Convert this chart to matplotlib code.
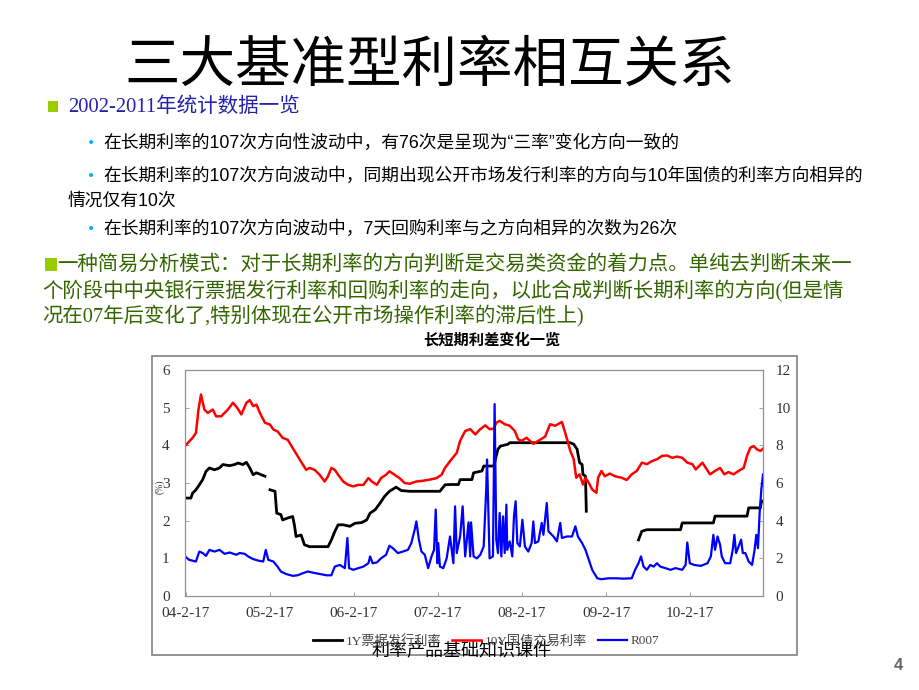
import numpy as np
import matplotlib
matplotlib.use("Agg")
import matplotlib.pyplot as plt
from matplotlib.patches import Rectangle

plt.rcParams['font.family'] = ['Noto Sans CJK SC', 'DejaVu Sans']

# 10Y国债交易利率 (左轴, %)
red_year = [2004.12, 2004.21, 2004.25, 2004.28, 2004.31, 2004.35, 2004.39, 2004.45, 2004.49, 2004.55,
            2004.63, 2004.69, 2004.74, 2004.79, 2004.85, 2004.89, 2004.93, 2004.97, 2005.01, 2005.07,
            2005.13, 2005.17, 2005.22, 2005.28, 2005.34, 2005.40, 2005.46, 2005.52, 2005.56, 2005.60,
            2005.66, 2005.72, 2005.78, 2005.82, 2005.86, 2005.90, 2005.94, 2006.00, 2006.06, 2006.12,
            2006.18, 2006.24, 2006.30, 2006.34, 2006.40, 2006.45, 2006.51, 2006.55, 2006.61, 2006.67,
            2006.73, 2006.79, 2006.87, 2006.95, 2007.03, 2007.11, 2007.17, 2007.21,
            2007.27, 2007.35, 2007.39, 2007.45, 2007.51, 2007.57, 2007.63, 2007.69, 2007.74, 2007.79,
            2007.82, 2007.86, 2007.92, 2007.98, 2008.04, 2008.08, 2008.12, 2008.18, 2008.26, 2008.32,
            2008.40, 2008.46, 2008.52, 2008.60, 2008.65, 2008.70, 2008.74, 2008.77, 2008.81, 2008.85,
            2008.88, 2008.92, 2008.96, 2009.01, 2009.03, 2009.07, 2009.11, 2009.17, 2009.23, 2009.31,
            2009.37, 2009.43, 2009.49, 2009.55, 2009.61, 2009.67, 2009.73, 2009.79, 2009.85, 2009.91,
            2009.97, 2010.03, 2010.09, 2010.15, 2010.19, 2010.23, 2010.27, 2010.31, 2010.36, 2010.42,
            2010.48, 2010.53, 2010.58, 2010.64, 2010.70, 2010.76, 2010.80, 2010.84, 2010.88, 2010.92,
            2010.96, 2010.99]
red_val = [3.98, 4.2, 4.33, 4.95, 5.35, 4.95, 4.86, 4.95, 4.77, 4.77,
           4.95, 5.13, 5.0, 4.82, 5.13, 5.2, 5.04, 5.08, 4.86, 4.6,
           4.55, 4.42, 4.37, 4.2, 4.15, 3.93, 3.71, 3.49, 3.35, 3.4,
           3.35, 3.22, 3.04, 3.18, 3.4, 3.35, 3.22, 3.04, 2.95, 2.91,
           2.95, 2.95, 3.13, 3.04, 2.95, 3.13, 3.22, 3.31, 3.22, 3.13,
           3.0, 2.98, 3.04, 3.06, 3.09, 3.13, 3.22, 3.4,
           3.58, 3.8, 4.12, 4.38, 4.43, 4.29, 4.43, 4.53, 4.43, 4.44,
           4.6, 4.65, 4.56, 4.52, 4.38, 4.16, 4.12, 4.2, 4.04, 4.12,
           4.23, 4.56, 4.52, 4.62, 4.25, 3.85, 3.63, 3.14, 3.23, 2.96,
           3.14, 3.0, 2.83, 2.74, 3.14, 3.32, 3.18, 3.25, 3.18, 3.14,
           3.08, 3.23, 3.32, 3.54, 3.5, 3.58, 3.63, 3.72, 3.73, 3.67,
           3.7, 3.67, 3.54, 3.5, 3.36, 3.45, 3.54, 3.4, 3.23, 3.32,
           3.4, 3.23, 3.29, 3.23, 3.32, 3.4, 3.72, 3.94, 3.98, 3.89,
           3.85, 3.91]

# 1Y票据发行利率 (左轴, %), nan = 停发
black_year = [2004.12, 2004.19, 2004.21, 2004.25, 2004.29, 2004.33, 2004.37, 2004.41, 2004.47, 2004.53,
              2004.57, 2004.65, 2004.71, 2004.75, 2004.81, 2004.85, 2004.89, 2004.93, 2004.97, 2005.07,
              2005.10,
              2005.13, 2005.19, 2005.21, 2005.26, 2005.28, 2005.34, 2005.40, 2005.42, 2005.44, 2005.50,
              2005.54, 2005.60, 2005.82, 2005.86, 2005.90, 2005.94, 2006.00, 2006.08, 2006.14, 2006.22,
              2006.28, 2006.32, 2006.38, 2006.44, 2006.49, 2006.55, 2006.63, 2006.69, 2006.79, 2007.15,
              2007.21, 2007.27, 2007.37, 2007.39, 2007.53, 2007.55, 2007.65, 2007.67, 2007.79, 2007.82,
              2007.84, 2007.87, 2007.96, 2007.98, 2008.70, 2008.74, 2008.78, 2008.81, 2008.84, 2008.85,
              2008.88, 2008.89,
              2009.20,
              2009.51, 2009.55, 2009.61, 2010.01, 2010.03, 2010.40, 2010.42, 2010.80, 2010.82, 2010.96,
              2010.97, 2010.99]
black_val = [2.6, 2.6, 2.73, 2.82, 2.95, 3.09, 3.31, 3.4, 3.35, 3.4,
             3.49, 3.46, 3.49, 3.53, 3.49, 3.55, 3.4, 3.22, 3.27, 3.18,
             np.nan,
             2.82, 2.78, 2.2, 2.16, 2.02, 2.07, 2.11, 1.89, 1.58, 1.62,
             1.36, 1.31, 1.31, 1.49, 1.71, 1.89, 1.89, 1.85, 1.93, 1.95,
             2.02, 2.2, 2.29, 2.47, 2.64, 2.78, 2.89, 2.8, 2.78, 2.78,
             2.95, 2.96, 2.96, 3.09, 3.09, 3.27, 3.32, 3.45, 3.45, 3.72,
             3.9, 3.98, 4.03, 4.07, 4.07, 4.03, 3.9, 3.54, 3.49, 3.23,
             3.18, 2.25,
             np.nan,
             1.49, 1.72, 1.76, 1.76, 1.94, 1.94, 2.12, 2.12, 2.34, 2.34,
             2.52, 2.52]

# R007 (右轴, %)
blue_year = [2004.12, 2004.17, 2004.25, 2004.29, 2004.33, 2004.37, 2004.41, 2004.47, 2004.53, 2004.59,
             2004.65, 2004.73, 2004.77, 2004.83, 2004.87, 2004.93, 2004.99, 2005.05, 2005.08, 2005.11,
             2005.17, 2005.22, 2005.26, 2005.32, 2005.40, 2005.46, 2005.52, 2005.58, 2005.64, 2005.72,
             2005.80, 2005.86, 2005.90, 2005.96, 2006.02, 2006.05, 2006.07, 2006.12, 2006.18, 2006.24,
             2006.30, 2006.32, 2006.35, 2006.40, 2006.45, 2006.51, 2006.55, 2006.59, 2006.65, 2006.71,
             2006.77, 2006.81, 2006.85, 2006.87, 2006.90, 2006.93, 2006.97, 2007.01, 2007.05, 2007.08,
             2007.10, 2007.12, 2007.13, 2007.15, 2007.19, 2007.23,
             2007.27, 2007.31, 2007.33, 2007.35, 2007.39, 2007.42, 2007.45, 2007.49, 2007.51, 2007.52,
             2007.55, 2007.59, 2007.63, 2007.67, 2007.70, 2007.71, 2007.74, 2007.78, 2007.80, 2007.82,
             2007.84, 2007.86, 2007.88, 2007.90, 2007.92, 2007.94, 2007.95, 2007.98, 2008.01, 2008.03,
             2008.05, 2008.07, 2008.10, 2008.13, 2008.16, 2008.20, 2008.24, 2008.26, 2008.28, 2008.32,
             2008.36, 2008.38, 2008.42, 2008.44, 2008.50, 2008.54, 2008.58, 2008.60, 2008.66, 2008.72,
             2008.76, 2008.79, 2008.84, 2008.88, 2008.92, 2008.96, 2009.02, 2009.07, 2009.15, 2009.25,
             2009.33, 2009.43, 2009.47, 2009.51, 2009.54, 2009.57, 2009.61, 2009.65, 2009.69, 2009.73,
             2009.77, 2009.83, 2009.89, 2009.95, 2010.03, 2010.07, 2010.09, 2010.12, 2010.17, 2010.25,
             2010.33, 2010.37, 2010.40, 2010.42, 2010.45, 2010.48, 2010.50, 2010.54, 2010.60, 2010.63,
             2010.65, 2010.67, 2010.70, 2010.73, 2010.75, 2010.78, 2010.82, 2010.86, 2010.89, 2010.91,
             2010.93, 2010.95, 2010.97, 2010.99]
blue_val = [2.1, 1.92, 1.83, 2.36, 2.28, 2.13, 2.45, 2.36, 2.45, 2.24,
            2.31, 2.19, 2.28, 2.24, 2.1, 1.96, 1.88, 1.83, 2.45, 1.92,
            1.83, 1.56, 1.3, 1.17, 1.07, 1.1, 1.21, 1.3, 1.24, 1.17,
            1.1, 1.1, 1.56, 1.65, 1.48, 3.08, 1.48, 1.39, 1.48, 1.56,
            1.74, 2.1, 1.74, 1.78, 2.0, 2.19, 2.67, 2.54, 2.28, 2.36,
            2.45, 2.81, 3.52, 3.96, 2.99, 2.36, 2.19, 1.48, 2.1, 2.45,
            4.59, 1.74, 2.81, 1.56, 1.48, 2.0,
            3.16, 1.74, 4.76, 2.28, 3.16, 4.76, 2.1, 3.91, 2.1, 3.91,
            2.1, 2.0, 2.19, 2.63, 5.65, 7.25, 2.0, 2.1, 10.19, 2.99,
            2.28, 4.41, 2.1, 4.23, 2.28, 4.85, 2.45, 2.9, 2.1, 4.23,
            5.03, 2.81, 2.63, 4.05, 2.63, 2.36, 2.81, 3.96, 2.81, 2.9,
            3.88, 3.25, 4.94, 3.43, 3.16, 2.9, 3.88, 3.08, 3.16, 3.16,
            3.7, 3.16, 2.81, 2.45, 1.92, 1.39, 0.94, 0.89, 0.94, 0.94,
            0.92, 0.94, 1.39, 1.74, 2.1, 1.56, 1.39, 1.65, 1.56, 1.74,
            1.56, 1.48, 1.39, 1.48, 1.39, 1.65, 2.84, 1.74, 1.65, 1.6,
            1.74, 2.1, 3.25, 2.45, 3.16, 2.72, 2.1, 1.74, 1.74, 2.45,
            3.25, 2.28, 2.63, 2.99, 2.28, 2.28, 1.83, 1.65, 2.45, 3.25,
            2.54, 4.41, 5.65, 6.45]

tick_years = [2004, 2005, 2006, 2007, 2008, 2009, 2010]
tick_labels = ['%02d-2-17' % (y % 100) for y in tick_years]
series_labels = ['1Y票据发行利率', '10Y国债交易利率', 'R007']

W, H = 920, 690
fig = plt.figure(figsize=(W / 100, H / 100), dpi=100)
fig.patch.set_facecolor('white')

def fx(x):
    return x / W

def fy(y):
    return 1 - y / H

serif_cjk = ['Liberation Serif', 'Noto Sans CJK SC']
sans_cjk = ['Liberation Sans', 'Noto Sans CJK SC']

# 标题
fig.text(fx(430), fy(66), '三大基准型利率相互关系', fontsize=40, ha='center', va='center',
         family=['Noto Sans CJK SC'], color='black')

# 第一段
fig.add_artist(Rectangle((fx(48), fy(112)), 10 / W, 11 / H, transform=fig.transFigure,
                         facecolor='#99cc00', edgecolor='none'))
fig.text(fx(68), fy(107), '2002-2011年统计数据一览', fontsize=14.8, ha='left', va='center',
         family=serif_cjk, color='#2222aa')

bullets = [
    (143, '在长期利率的107次方向性波动中，有76次是呈现为“三率”变化方向一致的'),
    (176, '在长期利率的107次方向波动中，同期出现公开市场发行利率的方向与10年国债的利率方向相异的'),
    (229, '在长期利率的107次方向波动中，7天回购利率与之方向相异的次数为26次'),
]
for y, s in bullets:
    fig.text(fx(91), fy(y), '•', fontsize=10, ha='center', va='center', color='#00b0f0',
             family=['DejaVu Sans'])
    fig.text(fx(103), fy(y), s, fontsize=12.8, ha='left', va='center', family=sans_cjk, color='black')
fig.text(fx(68), fy(201), '情况仅有10次', fontsize=12.8, ha='left', va='center', family=sans_cjk,
         color='black')

# 第二段
green = '#336600'
fig.add_artist(Rectangle((fx(45), fy(271)), 12 / W, 13 / H, transform=fig.transFigure,
                         facecolor='#99cc00', edgecolor='none'))
fig.text(fx(57), fy(265), '一种简易分析模式：对于长期利率的方向判断是交易类资金的着力点。单纯去判断未来一',
         fontsize=14.7, ha='left', va='center', family=serif_cjk, color=green)
fig.text(fx(42), fy(291), '个阶段中中央银行票据发行利率和回购利率的走向，以此合成判断长期利率的方向(但是情',
         fontsize=14.7, ha='left', va='center', family=serif_cjk, color=green)
fig.text(fx(42), fy(316), '况在07年后变化了,特别体现在公开市场操作利率的滞后性上)',
         fontsize=14.7, ha='left', va='center', family=serif_cjk, color=green)

# 图表
fig.text(fx(492), fy(340), '长短期利差变化一览', fontsize=11, ha='center', va='center',
         family=['Noto Sans CJK SC'], weight='bold', color='black')
fig.add_artist(Rectangle((fx(152), fy(655)), (797 - 152) / W, (655 - 356) / H,
                         transform=fig.transFigure, facecolor='none', edgecolor='#808080', lw=1.2))

ax = fig.add_axes([fx(185), fy(596), (763 - 185) / W, (596 - 370) / H])
ax2 = ax.twinx()

l_black, = ax.plot(black_year, black_val, color='black', lw=2)
l_red, = ax.plot(red_year, red_val, color='red', lw=1.8)
l_blue, = ax2.plot(blue_year, blue_val, color='blue', lw=1.6)

ax.set_xlim(2004.12, 2010.99)
ax.set_ylim(0, 6)
ax2.set_ylim(0, 12)
ax.set_yticks(range(0, 7))
ax2.set_yticks(range(0, 13, 2))
ax.set_xticks([y + 0.126 for y in tick_years])
ax.set_xticklabels(tick_labels)

for a in (ax, ax2):
    for sp in a.spines.values():
        sp.set_color('#909090')
        sp.set_linewidth(0.8)
    a.tick_params(direction='in', length=3, width=0.6, color='#909090', labelsize=11,
                  labelcolor='#333333')
    for lab in a.get_xticklabels() + a.get_yticklabels():
        lab.set_family(['Liberation Serif'])
ax.tick_params(axis='y', pad=11)
ax2.tick_params(axis='y', pad=9)
ax.tick_params(axis='x', pad=8)

fig.text(fx(160), fy(487), '(%)', fontsize=7, rotation=90, ha='center', va='center',
         family=['Liberation Serif'], color='#333333')

leg = fig.legend([l_black, l_red, l_blue], series_labels, loc='center',
                 bbox_to_anchor=(fx(486), fy(641)), ncol=3, frameon=False,
                 prop={'family': serif_cjk, 'size': 9.5}, handlelength=2.2, columnspacing=0.8,
                 handletextpad=0.3)
for t in leg.get_texts():
    t.set_color('#444444')

# 页脚
fig.text(fx(461), fy(652), '利率产品基础知识课件', fontsize=13, ha='center', va='center',
         family=serif_cjk, color='black')
fig.text(fx(898), fy(665), '4', fontsize=12, ha='center', va='center', weight='bold',
         family=['Liberation Sans'], color='#666666')

fig.savefig('out.png', dpi=100, facecolor='white')
